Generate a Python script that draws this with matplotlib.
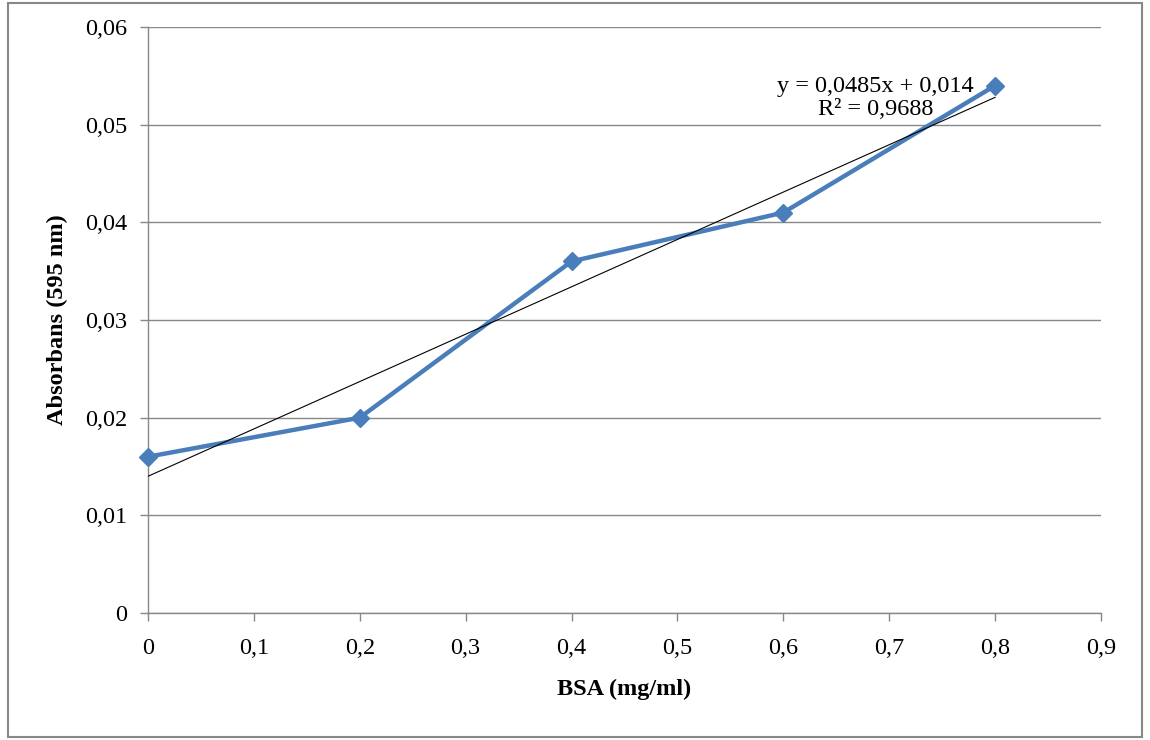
import numpy as np
import matplotlib.pyplot as plt
from matplotlib.patches import Rectangle

plt.rcParams['font.family'] = ['Liberation Serif', 'DejaVu Serif']

bsa = [0, 0.2, 0.4, 0.6, 0.8]
absorbans = [0.016, 0.020, 0.036, 0.041, 0.054]
slope = 0.0485
intercept = 0.014
x_ticks = [0, 0.1, 0.2, 0.3, 0.4, 0.5, 0.6, 0.7, 0.8, 0.9]
y_ticks = [0, 0.01, 0.02, 0.03, 0.04, 0.05, 0.06]

fig = plt.figure(figsize=(11.5, 7.4), dpi=100)
ax = fig.add_axes([0.1287, 0.1716, 0.8287, 0.7919])

# outer chart border
fig.patches.append(Rectangle((8 / 1150, 3 / 740), 1134 / 1150, 734 / 740,
                             transform=fig.transFigure, fill=False,
                             edgecolor='#888888', linewidth=1.5))

ax.plot(bsa, absorbans, color='#4A7EBB', linewidth=3.2, marker='D',
        markersize=9, zorder=3, clip_on=False)

fit_x = np.array([bsa[0], bsa[-1]])
ax.plot(fit_x, slope * fit_x + intercept, color='black', linewidth=0.8, zorder=4)

ax.text(0.687, 0.0527, 'y = 0,0485x + 0,014\nR² = 0,9688', ha='center',
        va='center', fontsize=17.5, linespacing=1.12)

ax.set_xlim(0, 0.9)
ax.set_ylim(0, 0.06)
ax.set_xticks(x_ticks)
ax.set_yticks(y_ticks)
ax.set_xticklabels([('%g' % v).replace('.', ',') for v in x_ticks])
ax.set_yticklabels([('%g' % v).replace('.', ',') for v in y_ticks])
ax.tick_params(labelsize=17.5, color='#888888', length=6, width=1)
ax.tick_params(axis='x', pad=12)
ax.tick_params(axis='y', pad=9)

ax.grid(axis='y', color='#888888', linewidth=1)
ax.set_axisbelow(True)
for s in ['top', 'right']:
    ax.spines[s].set_visible(False)
for s in ['left', 'bottom']:
    ax.spines[s].set_color('#888888')
    ax.spines[s].set_linewidth(1)

ax.set_xlabel('BSA (mg/ml)', fontsize=17.5, fontweight='bold', labelpad=14)
ax.set_ylabel('Absorbans (595 nm)', fontsize=17.5, fontweight='bold', labelpad=12)

fig.savefig('out.png', dpi=100)
